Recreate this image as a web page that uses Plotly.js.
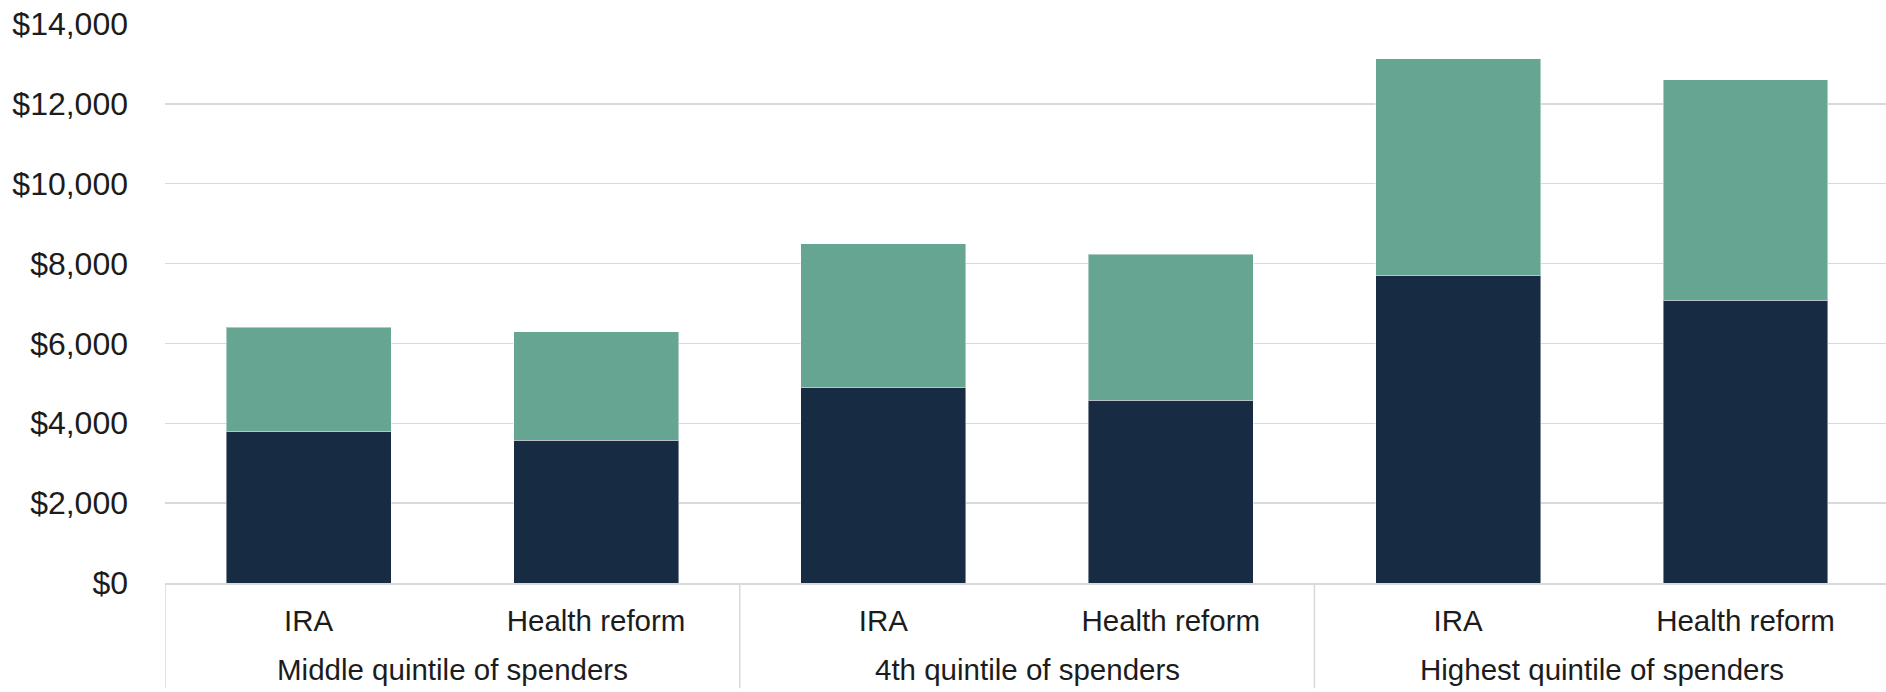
<!DOCTYPE html>
<html>
<head>
<meta charset="utf-8">
<script src="https://cdn.plot.ly/plotly-3.0.1.min.js"></script>
<style>
  html, body { margin: 0; padding: 0; background: #ffffff; }
  #chart { width: 1886px; height: 692px; }
</style>
</head>
<body>
<div id="chart"></div>
<script>
// Spender groups and the two plans compared within each group
const groups = [
  "Middle quintile of spenders", "Middle quintile of spenders",
  "4th quintile of spenders", "4th quintile of spenders",
  "Highest quintile of spenders", "Highest quintile of spenders"
];
const plans = ["IRA", "Health reform", "IRA", "Health reform", "IRA", "Health reform"];

// Stacked segment values (dollars)
const lowerSegment = [3790, 3570, 4890, 4580, 7700, 7080];
const upperSegment = [2620, 2720, 3610, 3650, 5430, 5520];

// Value axis ticks
const yTickVals = [0, 2000, 4000, 6000, 8000, 10000, 12000, 14000];
const yTickText = ["$0", "$2,000", "$4,000", "$6,000", "$8,000", "$10,000", "$12,000", "$14,000"];

const navy = "#172b43";
const green = "#66a592";
const rule = "#d9d9d9";
const textColor = "#1c1c1c";
const fontFamily = "Liberation Sans, Arial, sans-serif";

// One unique category per bar; the plan name is shown as its tick label
const keys = groups.map((g, i) => g + " | " + plans[i]);

// Group spans along the category axis (serial category index)
const groupNames = [];
const groupStart = {};
const groupEnd = {};
groups.forEach((g, i) => {
  if (!(g in groupStart)) { groupNames.push(g); groupStart[g] = i; }
  groupEnd[g] = i;
});

const barStyle = (color) => ({ color: color, line: { color: "rgba(255,255,255,0.45)", width: 1 } });

const traces = [
  {
    type: "bar",
    name: "Lower segment",
    x: keys,
    y: lowerSegment,
    marker: barStyle(navy),
    width: 0.574,
    hoverinfo: "y"
  },
  {
    type: "bar",
    name: "Upper segment",
    x: keys,
    y: upperSegment,
    marker: barStyle(green),
    width: 0.574,
    hoverinfo: "y"
  }
];

// Group labels beneath the plan labels
const annotations = groupNames.map((g) => ({
  xref: "x",
  yref: "paper",
  x: (groupStart[g] + groupEnd[g]) / 2,
  y: -0.1556,
  xanchor: "center",
  yanchor: "middle",
  text: g,
  showarrow: false,
  font: { family: fontFamily, size: 29.5, color: textColor }
}));

// Vertical dividers at the left edge of each group, running down through both label rows
const shapes = groupNames.map((g) => ({
  type: "line",
  xref: "x",
  yref: "paper",
  x0: groupStart[g] - 0.5,
  x1: groupStart[g] - 0.5,
  y0: 0,
  y1: -0.188,
  line: { color: rule, width: 1.5 }
}));

const layout = {
  width: 1886,
  height: 692,
  barmode: "stack",
  showlegend: false,
  paper_bgcolor: "#ffffff",
  plot_bgcolor: "#ffffff",
  margin: { l: 165, r: 0, t: 24, b: 109, pad: 0 },
  font: { family: fontFamily, size: 29.5, color: textColor },
  xaxis: {
    type: "category",
    categoryorder: "array",
    categoryarray: keys,
    tickvals: keys,
    ticktext: plans,
    range: [-0.5, 5.489],
    showline: true,
    linecolor: rule,
    linewidth: 1.5,
    showgrid: false,
    zeroline: false,
    ticks: "",
    ticklabelstandoff: 11,
    tickfont: { family: fontFamily, size: 29.5, color: textColor }
  },
  yaxis: {
    range: [0, 14000],
    tickvals: yTickVals,
    ticktext: yTickText,
    showgrid: true,
    gridcolor: rule,
    gridwidth: 1.5,
    zeroline: false,
    showline: false,
    ticks: "",
    ticklabelstandoff: 36,
    tickfont: { family: fontFamily, size: 32, color: textColor }
  },
  annotations: annotations,
  shapes: shapes
};

Plotly.newPlot("chart", traces, layout, { staticPlot: true, displayModeBar: false });
</script>
</body>
</html>
